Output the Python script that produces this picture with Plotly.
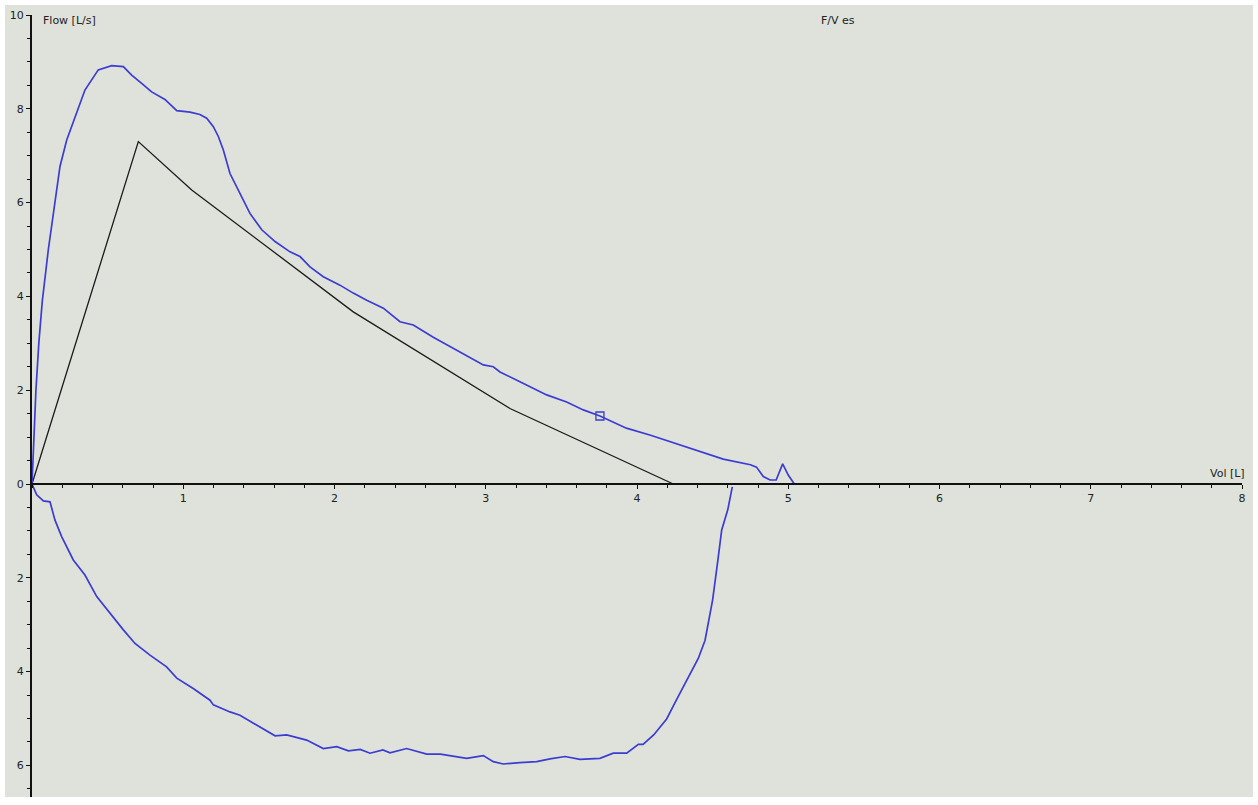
import plotly.graph_objects as go

# Expiratory limb (flow > 0)
exp_vol = [0, 0.009, 0.026, 0.045, 0.068, 0.108, 0.152, 0.185, 0.229, 0.273, 0.35, 0.438,
           0.527, 0.604, 0.659, 0.725, 0.791, 0.879, 0.957, 1.045, 1.11, 1.155, 1.199, 1.232,
           1.265, 1.309, 1.32, 1.375, 1.441, 1.519, 1.607, 1.706, 1.772, 1.838, 1.926, 2.036,
           2.124, 2.213, 2.323, 2.433, 2.521, 2.653, 2.764, 2.896, 2.984, 3.05, 3.094, 3.226,
           3.403, 3.535, 3.645, 3.755, 3.93, 4.09, 4.24, 4.42, 4.57, 4.75, 4.79, 4.835, 4.88,
           4.92, 4.963, 5.0, 5.04]
exp_flow = [0, 0.8, 2.0, 3.0, 3.9, 5.0, 6.06, 6.77, 7.33, 7.73, 8.40, 8.83,
            8.92, 8.90, 8.72, 8.54, 8.36, 8.20, 7.96, 7.93, 7.88, 7.80, 7.62, 7.41,
            7.12, 6.62, 6.55, 6.20, 5.77, 5.42, 5.17, 4.95, 4.85, 4.63, 4.42, 4.24,
            4.07, 3.92, 3.75, 3.46, 3.39, 3.13, 2.93, 2.71, 2.54, 2.50, 2.39, 2.18,
            1.90, 1.75, 1.58, 1.45, 1.19, 1.04, 0.88, 0.69, 0.53, 0.41, 0.36, 0.16, 0.085,
            0.085, 0.43, 0.19, 0]

# Inspiratory limb (flow < 0)
insp_vol = [0, 0.031, 0.075, 0.119, 0.152, 0.196, 0.273, 0.35, 0.428, 0.516, 0.604, 0.681,
            0.78, 0.89, 0.957, 1.066, 1.177, 1.199, 1.309, 1.375, 1.507, 1.607, 1.684, 1.816,
            1.926, 2.015, 2.092, 2.17, 2.235, 2.32, 2.367, 2.477, 2.61, 2.70, 2.874, 2.984,
            3.05, 3.116, 3.226, 3.337, 3.425, 3.524, 3.623, 3.755, 3.843, 3.932, 4.009, 4.04,
            4.11, 4.196, 4.26, 4.33, 4.405, 4.45, 4.5, 4.535, 4.56, 4.6, 4.63]
insp_flow = [0, -0.23, -0.36, -0.38, -0.77, -1.12, -1.62, -1.94, -2.40, -2.76, -3.11, -3.40,
             -3.65, -3.90, -4.14, -4.36, -4.61, -4.71, -4.86, -4.93, -5.17, -5.37, -5.35, -5.46,
             -5.64, -5.60, -5.69, -5.66, -5.74, -5.67, -5.73, -5.64, -5.76, -5.76, -5.85, -5.79,
             -5.92, -5.97, -5.94, -5.92, -5.86, -5.81, -5.87, -5.85, -5.74, -5.74, -5.55, -5.55,
             -5.35, -5.01, -4.61, -4.18, -3.72, -3.33, -2.47, -1.62, -0.98, -0.55, -0.06]

# Predicted curve
pred_vol = [0, 0.703, 1.056, 2.124, 3.16, 4.24]
pred_flow = [0, 7.30, 6.27, 3.67, 1.61, 0]

# Marker
mark_vol = [3.755]
mark_flow = [1.45]

x_ticks = [1, 2, 3, 4, 5, 6, 7, 8]
y_ticks = [-6, -4, -2, 0, 2, 4, 6, 8, 10]
y_ticktext = ["6", "4", "2", "0", "2", "4", "6", "8", "10"]

BG = "#dee2db"
BLUE = "#3c3cd2"
FONT = "DejaVu Sans"

fig = go.Figure()

fig.add_trace(go.Scatter(x=pred_vol, y=pred_flow, mode="lines",
                         line=dict(color="#1a1a1a", width=1.3), showlegend=False))
fig.add_trace(go.Scatter(x=exp_vol, y=exp_flow, mode="lines",
                         line=dict(color=BLUE, width=1.7), showlegend=False))
fig.add_trace(go.Scatter(x=insp_vol, y=insp_flow, mode="lines",
                         line=dict(color=BLUE, width=1.7), showlegend=False))
fig.add_trace(go.Scatter(x=mark_vol, y=mark_flow, mode="markers",
                         marker=dict(symbol="square-open", size=8, color=BLUE, line=dict(width=1.3)),
                         showlegend=False))

W, H = 1258, 805
ml, mr, mt, mb = 32, 16, 15, 8
pw, ph = W - ml - mr, H - mt - mb

# grey panel extends a little past the axes, white border outside
fig.add_shape(type="rect", xref="paper", yref="paper",
              x0=(5 - ml) / pw, x1=(1253 - ml) / pw, y0=0, y1=(H - mb - 5) / ph,
              fillcolor=BG, line=dict(width=0), layer="below")

fig.update_xaxes(
    range=[0, 8], anchor="free", position=(H - mb - 484) / ph,
    showgrid=False, zeroline=False,
    showline=True, linecolor="#111", linewidth=1.5,
    tickmode="array", tickvals=x_ticks, ticks="outside", ticklen=4, tickcolor="#111",
    minor=dict(tick0=0, dtick=0.2, ticks="outside", ticklen=3, tickcolor="#111"),
    tickfont=dict(family=FONT, size=11, color="#222"),
)
fig.update_yaxes(
    range=[10 - ph / 46.9, 10],
    showgrid=False, zeroline=False,
    showline=True, linecolor="#111", linewidth=2,
    tickmode="array", tickvals=y_ticks, ticktext=y_ticktext,
    ticks="outside", ticklen=4, tickcolor="#111",
    minor=dict(tick0=0, dtick=0.5, ticks="outside", ticklen=3, tickcolor="#111"),
    tickfont=dict(family=FONT, size=11, color="#222"),
)

fig.add_annotation(text="Flow [L/s]", xref="paper", yref="paper",
                   x=(41 - ml) / pw, y=(H - mb - 20) / ph, xanchor="left", yanchor="middle",
                   showarrow=False, font=dict(family=FONT, size=11, color="#222"))
fig.add_annotation(text="F/V es", xref="paper", yref="paper",
                   x=(819 - ml) / pw, y=(H - mb - 20) / ph, xanchor="left", yanchor="middle",
                   showarrow=False, font=dict(family=FONT, size=11, color="#222"))
fig.add_annotation(text="Vol [L]", xref="paper", yref="paper",
                   x=(1247 - ml) / pw, y=(H - mb - 473) / ph, xanchor="right", yanchor="middle",
                   showarrow=False, font=dict(family=FONT, size=11, color="#222"))

fig.update_layout(
    width=W, height=H,
    margin=dict(l=ml, r=mr, t=mt, b=mb),
    paper_bgcolor="white", plot_bgcolor=BG,
    showlegend=False,
)

fig.write_html("out.html", config={"displayModeBar": False},
               post_script="document.body.style.margin='0';")
